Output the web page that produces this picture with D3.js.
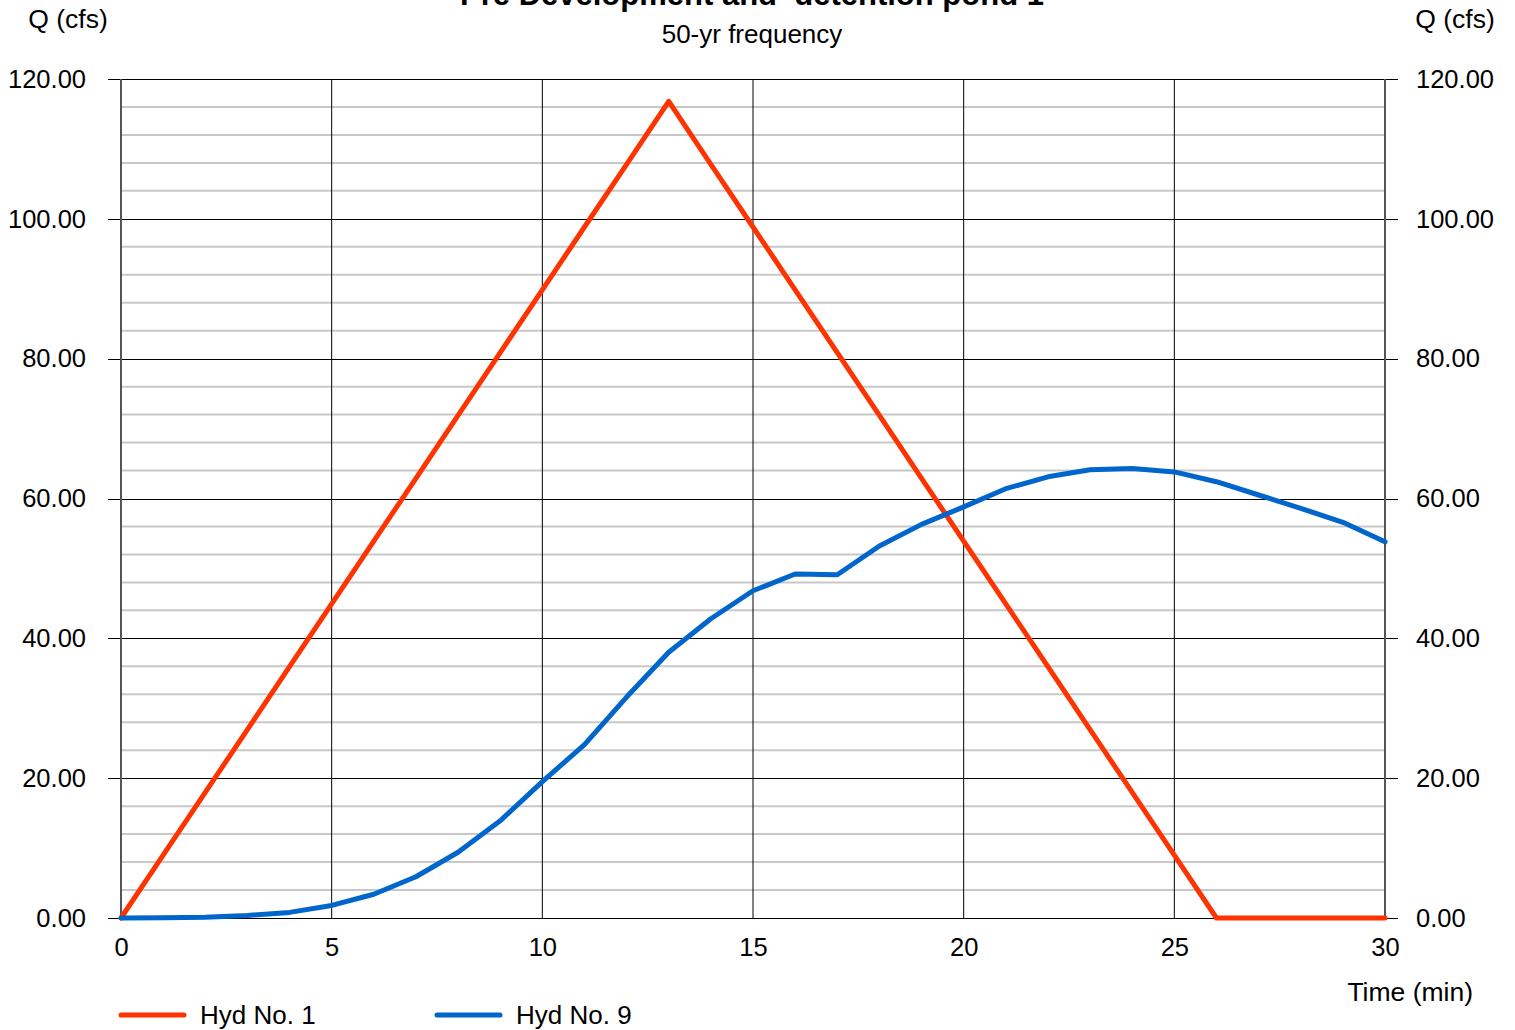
<!DOCTYPE html>
<html><head><meta charset="utf-8">
<script src="https://cdn.jsdelivr.net/npm/d3@7"></script>
<style>body{margin:0;background:#fff;} svg{display:block;font-family:"Liberation Sans",Arial,sans-serif;}</style>
</head><body>
<svg id="c" width="1515" height="1030"></svg>
<script>
const title = "Pre Development and  detention pond 1";
const subtitle = "50-yr frequency";
const time = [0,1,2,3,4,5,6,7,8,9,10,11,12,13,14,15,16,17,18,19,20,21,22,23,24,25,26,27,28,29,30];
const hyd1 = [0,8.98,17.97,26.95,35.94,44.92,53.91,62.89,71.88,80.86,89.85,98.83,107.8,116.8,107.8,98.83,89.85,80.86,71.88,62.89,53.91,44.92,35.94,26.95,17.97,8.98,0,0,0,0,0];
const hyd9 = [0,0.02,0.1,0.37,0.8,1.8,3.4,5.9,9.4,13.9,19.5,24.8,31.6,38.0,42.8,46.8,49.2,49.1,53.2,56.3,58.8,61.4,63.1,64.1,64.3,63.8,62.4,60.5,58.6,56.6,53.8];
const seriesNames = ["Hyd No. 1","Hyd No. 9"];
const seriesColors = ["#FF3300","#0066CC"];
const xTicks = [0,5,10,15,20,25,30];
const yTicks = [0,20,40,60,80,100,120];
const yMinor = [4,8,12,16,24,28,32,36,44,48,52,56,64,68,72,76,84,88,92,96,104,108,112,116];

const svg = d3.select("#c");
const L=121, R=1385, T=79, B=918;
const x = d3.scaleLinear().domain([0,30]).range([L,R]);
const y = d3.scaleLinear().domain([0,120]).range([B,T]);

// minor gridlines
svg.append("g").selectAll("line").data(yMinor).join("line")
  .attr("x1",L).attr("x2",R).attr("y1",d=>y(d)).attr("y2",d=>y(d))
  .attr("stroke","#c8c8c8").attr("stroke-width",2);
// vertical gridlines
svg.append("g").selectAll("line").data(xTicks.slice(1,-1)).join("line")
  .attr("x1",d=>x(d)).attr("x2",d=>x(d)).attr("y1",T).attr("y2",B)
  .attr("stroke","#000").attr("stroke-width",1);
// major horizontal
svg.append("g").selectAll("line").data(yTicks).join("line")
  .attr("x1",L-13).attr("x2",R+13).attr("y1",d=>Math.round(y(d))+0.5).attr("y2",d=>Math.round(y(d))+0.5)
  .attr("stroke","#000").attr("stroke-width",1);
// side axes
[L,R].forEach(px=>svg.append("line").attr("x1",px).attr("x2",px).attr("y1",T).attr("y2",B)
  .attr("stroke","#555").attr("stroke-width",2));

// axes labels via d3 axes (no lines)
const yl = svg.append("g").attr("transform",`translate(${L},0)`)
  .call(d3.axisLeft(y).tickValues(yTicks).tickFormat(d3.format(".2f")).tickSize(0).tickPadding(35));
const yr = svg.append("g").attr("transform",`translate(${R},0)`)
  .call(d3.axisRight(y).tickValues(yTicks).tickFormat(d3.format(".2f")).tickSize(0).tickPadding(31));
const xa = svg.append("g").attr("transform",`translate(0,${B})`)
  .call(d3.axisBottom(x).tickValues(xTicks).tickFormat(d3.format("d")).tickSize(0).tickPadding(20));
[yl,yr,xa].forEach(g=>{g.select(".domain").remove();
  g.selectAll("text").attr("font-size",25.5).attr("fill","#000").attr("font-family","Liberation Sans, Arial, sans-serif");});

// lines
const line = d3.line().x((d,i)=>x(time[i])).y(d=>y(d));
[hyd1,hyd9].forEach((s,i)=>svg.append("path").datum(s).attr("d",line)
  .attr("fill","none").attr("stroke",seriesColors[i]).attr("stroke-width",5)
  .attr("stroke-linejoin","round").attr("stroke-linecap","round"));

// texts
svg.append("text").attr("x",752).attr("y",5).attr("text-anchor","middle")
  .style("white-space","pre")
  .attr("font-size",31).attr("font-weight","bold").text(title);
svg.append("text").attr("x",752).attr("y",43).attr("text-anchor","middle")
  .attr("font-size",26).text(subtitle);
svg.append("text").attr("x",68).attr("y",28).attr("text-anchor","middle")
  .attr("font-size",26.5).text("Q (cfs)");
svg.append("text").attr("x",1455).attr("y",28).attr("text-anchor","middle")
  .attr("font-size",26.5).text("Q (cfs)");
svg.append("text").attr("x",1473).attr("y",1001).attr("text-anchor","end")
  .attr("font-size",26.5).text("Time (min)");

// legend
const lg = svg.append("g").selectAll("g").data(seriesNames).join("g")
  .attr("transform",(d,i)=>`translate(${121+i*316},1015)`);
lg.append("line").attr("x1",0).attr("x2",63).attr("y1",0).attr("y2",0)
  .attr("stroke",(d,i)=>seriesColors[i]).attr("stroke-width",5).attr("stroke-linecap","round");
lg.append("text").attr("x",79).attr("y",9).attr("font-size",26).text(d=>d);
</script>
</body></html>
